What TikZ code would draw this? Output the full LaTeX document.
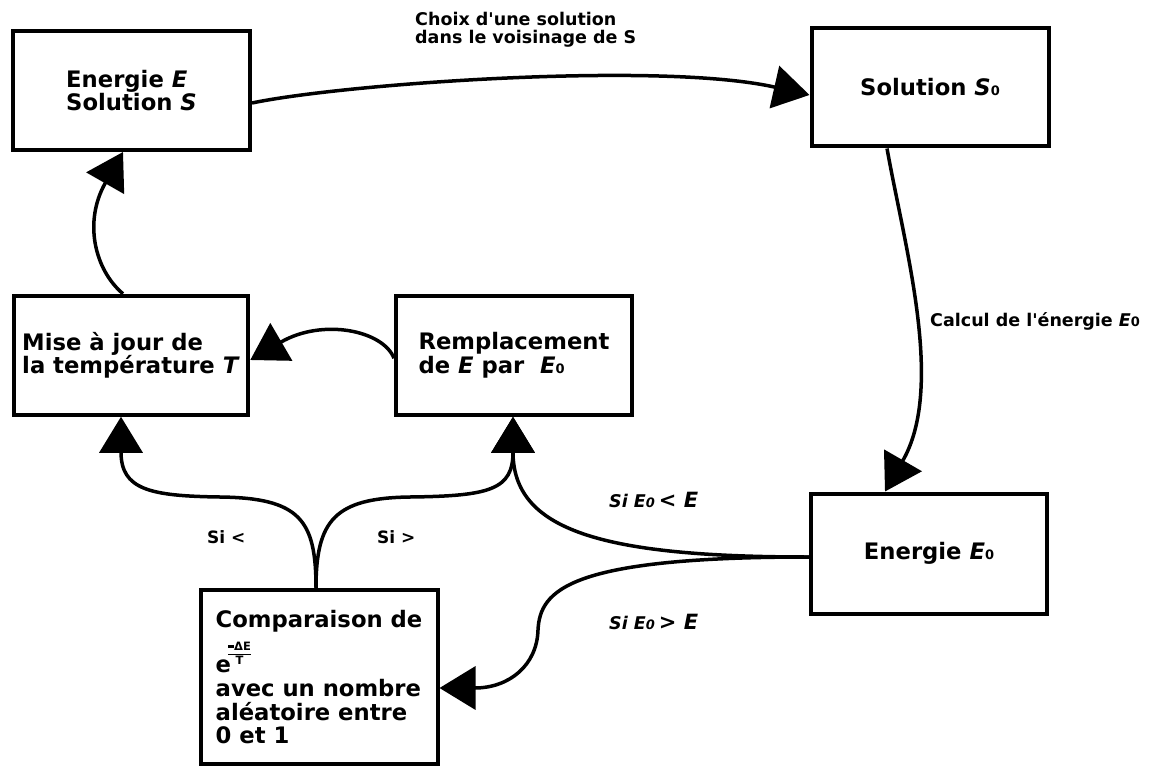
\documentclass[tikz,border=0pt]{standalone}
\usepackage{fontspec}
\setmainfont{DejaVu Sans}
\usetikzlibrary{arrows.meta}
\newcommand{\zsub}[1]{{\fontsize{13}{13}\selectfont #1}}
\newcommand{\zfrac}{\raisebox{8pt}{\fontsize{11.5}{11.5}\selectfont\setlength{\tabcolsep}{0pt}\setlength{\arrayrulewidth}{1.3pt}\renewcommand{\arraystretch}{1.1}\begin{tabular}[b]{c}\rule[2.5pt]{6pt}{2.8pt}ΔE\\\hline T\end{tabular}}}
\begin{document}
\begin{tikzpicture}[x=1pt,y=1pt,
  box/.style={draw, line width=4pt, minimum width=236pt, minimum height=119pt, align=left, inner sep=0pt, font=\bfseries\fontsize{22.7}{23.2}\selectfont},
  conn/.style={line width=3.5pt, -{Triangle[length=36pt,width=43pt]}},
  lbl/.style={inner sep=0pt, align=left, font=\bfseries\fontsize{17.5}{18.3}\selectfont},
  lbls/.style={inner sep=0pt, font=\bfseries\fontsize{17}{17}\selectfont},
  ]
\useasboundingbox (0,0) rectangle (1155,-767);
\node[box, minimum width=237pt] (A) at (131.5,-90.5) {Energie \textit{E}\\Solution \textit{S}};
\node[box, minimum width=237pt, minimum height=118pt] (B) at (930,-87.5) {Solution \textit{S}\zsub{0}};
\node[box, minimum width=234.5pt] (C) at (131,-355.25) {Mise à jour de\\la température \textit{T}};
\node[box] (D) at (514,-355.25) {Remplacement\\de \textit{E} par\ \ \textit{E}\zsub{0}};
\node[box, minimum height=120pt] (E) at (929,-553.5) {Energie \textit{E}\zsub{0}};
\node[box, minimum width=237pt, minimum height=173.5pt] (F) at (319,-676.75) {Comparaison de\\[22pt]e\kern-3pt\smash{\zfrac}\\[1pt]avec un nombre\\[0.5pt]aléatoire entre\\0 et 1};

\coordinate (m1) at (538,-630);
\coordinate (cl) at (220,-497);
\coordinate (cr) at (410,-497);

\draw[conn] ([yshift=-12.5pt]A.east) .. controls +(90,19) and +(-150,34) .. ([yshift=-7.5pt]B.west);
\draw[conn] ([xshift=-43pt]B.south) .. controls +(18,-100) and +(60,104) .. ([xshift=-44pt]E.north);
\draw[conn] ([yshift=-3.5pt]E.west) .. controls +(-209,0) and +(0,-113) .. ([xshift=-1pt]D.south);
\draw[conn] ([yshift=-3.5pt]E.west) .. controls +(-240,0) and +(2,40) .. (m1) .. controls +(-1,-35) and +(70,0) .. ([yshift=-11.25pt]F.east);
\draw[conn] ([xshift=-3pt]F.north) .. controls +(0,68) and +(80,-1) .. (cl) .. controls +(-70,1) and +(0,-73) .. ([xshift=-10pt]C.south);
\draw[conn] ([xshift=-3pt]F.north) .. controls +(0,68) and +(-75,-1) .. (cr) .. controls +(80,1) and +(0,-73) .. ([xshift=-1pt]D.south);
\draw[conn] ([yshift=-3pt]D.west) .. controls +(-11,28) and +(72,42) .. ([yshift=-4.75pt]C.east);
\draw[conn] ([xshift=-8pt]C.north) .. controls +(-28,23.5) and +(-40,-70) .. ([xshift=-8.5pt]A.south);

\node[lbl, anchor=west] (t1) at (415,-29.5) {Choix d\textquotesingle une solution\\dans le voisinage de S};
\node[lbl, anchor=base west] (t2) at (930,-326) {Calcul de l\textquotesingle énergie \textit{E}\zsub{0}};
\node[lbls, anchor=base west] (t3) at (207,-543) {Si <};
\node[lbls, anchor=base west] (t4) at (377,-543) {Si >};
\node[lbl, anchor=base west] (t5) at (609,-507) {\textit{Si E\zsub{0}}\kern4pt{\fontsize{21}{21}\selectfont <\ \textit{E}}};
\node[lbl, anchor=base west] (t6) at (609,-629) {\textit{Si E\zsub{0}}\kern4pt{\fontsize{21}{21}\selectfont >\ \textit{E}}};
\end{tikzpicture}
\end{document}
